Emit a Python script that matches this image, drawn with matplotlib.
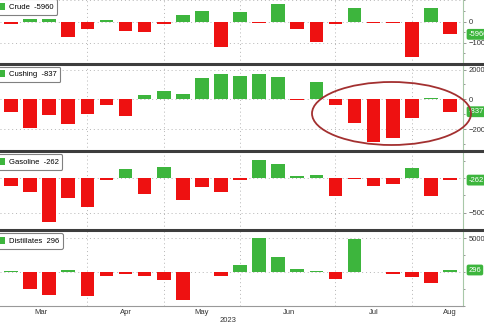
import numpy as np
import pandas as pd
import matplotlib
matplotlib.use('Agg')
import matplotlib.pyplot as plt
import matplotlib.dates as mdates
import matplotlib.transforms as mtransforms
from matplotlib.patches import Ellipse, Patch
from matplotlib.lines import Line2D

# weekly EIA inventory changes (thousand barrels), week ending
week_ending = ['2023-03-03', '2023-03-10', '2023-03-17', '2023-03-24', '2023-03-31',
               '2023-04-07', '2023-04-14', '2023-04-21', '2023-04-28', '2023-05-05',
               '2023-05-12', '2023-05-19', '2023-05-26', '2023-06-02', '2023-06-09',
               '2023-06-16', '2023-06-23', '2023-06-30', '2023-07-07', '2023-07-14',
               '2023-07-21', '2023-07-28', '2023-08-04', '2023-08-11']

crude = [-1100, 1500, 1100, -7100, -3500, 600, -4300, -4900, -1100, 3100,
         5200, -12100, 4700, -450, 8300, -3600, -9400, -1300, 6300, -500,
         -500, -16800, 6300, -5960]
cushing = [-880, -1900, -1060, -1660, -990, -380, -1100, 290, 560, 380,
           1460, 1730, 1600, 1700, 1530, -40, 1190, -380, -1610, -2890,
           -2580, -1230, 120, -837]
gasoline = [-1060, -2030, -6280, -2800, -4100, -290, 1300, -2320, 1640, -3140,
            -1300, -1980, -200, 2660, 2030, 390, 530, -2510, -60, -1110,
            -770, 1450, -2610, -262]
distillates = [100, -2470, -3370, 250, -3610, -590, -350, -590, -1240, -4160,
               60, -590, 990, 5100, 2180, 450, 120, -990, 4850, 30,
               -250, -790, -1680, 296]

names = ['Crude', 'Cushing', 'Gasoline', 'Distillates']
series = [crude, cushing, gasoline, distillates]
last_labels = ['-5960', '-837', '-262', '296']
legend_labels = ['Crude  -5960', 'Cushing  -837', 'Gasoline  -262', 'Distillates  296']

month_labels = ['Mar', 'Apr', 'May', 'Jun', 'Jul', 'Aug']
month_pos = ['2023-03-14', '2023-04-14', '2023-05-12', '2023-06-13', '2023-07-14', '2023-08-11']
grid_dates = ['2023-03-31', '2023-04-28', '2023-05-26', '2023-06-30', '2023-07-28']

GREEN = '#3db53d'
RED = '#ee1111'

plt.rcParams['font.family'] = ['Liberation Sans', 'DejaVu Sans']

W, H = 485, 325
fig = plt.figure(figsize=(W / 100, H / 100), dpi=100)

# panel extents in pixels (top, bottom) and y ranges
panel_px = [(-4, 63.5), (63.5, 151), (151, 230), (230, 306)]
ylims = [(-19720, 12120), (-3480, 2410), (-7515, 3968), (-5045, 6231)]
# labelled ticks (the zero labels of the lower two panels sit under the value tags)
major = [[-10000, 0], [-2000, 0, 2000], [-5000], [5000]]
minor = [[-15000, -5000, 5000, 10000], [-3000, -1000, 1000],
         [-2500, 0, 2500], [-5000, -2500, 0, 2500]]
hgrid = [[-10000, 0, 10000], [-2000, 0, 2000], [-5000, 0], [-5000, 0, 5000]]

dates = pd.to_datetime(week_ending)
x0 = mdates.date2num(pd.Timestamp('2023-03-03')) - 11 / 2.727
x1 = mdates.date2num(pd.Timestamp('2023-08-11')) + 13 / 2.727

axes = []
for i, (name, vals) in enumerate(zip(names, series)):
    top, bot = panel_px[i]
    ax = fig.add_axes([0, 1 - bot / H, 463 / W, (bot - top) / H])
    axes.append(ax)
    cols = [GREEN if v >= 0 else RED for v in vals]
    ax.bar(dates, vals, width=5, color=cols, zorder=2)
    ax.set_xlim(x0, x1)
    ax.set_ylim(*ylims[i])

    for d in grid_dates:
        ax.axvline(pd.Timestamp(d), color='#b5b5b5', lw=0.7, ls=(0, (1, 3)), zorder=0)
    for g in hgrid[i]:
        ax.axhline(g, color='#b5b5b5', lw=0.7, ls=(0, (1, 3)), zorder=0)

    for s in ['left', 'top', 'bottom']:
        ax.spines[s].set_visible(False)
    ax.spines['right'].set_color('#a8c8a8')
    ax.spines['right'].set_linewidth(0.8)

    ax.yaxis.tick_right()
    ax.set_yticks(major[i])
    ax.set_yticks(minor[i], minor=True)
    ax.tick_params(axis='y', which='both', direction='out', colors='#888888',
                   labelcolor='#333333', labelsize=5.5, pad=1.5, width=0.6)
    ax.tick_params(axis='y', which='major', length=2.5)
    ax.tick_params(axis='y', which='minor', length=1.5)

    if i < 3:
        ax.set_xticks([])
    else:
        ax.spines['bottom'].set_visible(True)
        ax.spines['bottom'].set_color('#999999')
        ax.spines['bottom'].set_linewidth(0.8)
        ax.set_xticks(pd.to_datetime(month_pos))
        ax.set_xticklabels(month_labels)
        ax.tick_params(axis='x', length=0, labelsize=5.5, labelcolor='#333333', pad=2.5)

    # last value tag on the right axis
    trans = mtransforms.blended_transform_factory(ax.transAxes, ax.transData)
    ax.text(1.012, vals[-1], last_labels[i], transform=trans, ha='left', va='center',
            fontsize=5.5, color='white', clip_on=False, zorder=10,
            bbox=dict(boxstyle='round,pad=0.25', fc=GREEN, ec='none'))

    leg = ax.legend(handles=[Patch(fc=GREEN, ec='none')], labels=[legend_labels[i]],
                    loc='upper left', bbox_to_anchor=(-5 / W, 1 - (top + 3) / H),
                    bbox_transform=fig.transFigure, fontsize=5.5, frameon=True,
                    fancybox=True, framealpha=1, edgecolor='#808080',
                    handlelength=0.8, handleheight=1.0, handletextpad=0.5,
                    borderpad=0.5, borderaxespad=0)
    leg.get_frame().set_linewidth(0.8)
    leg.set_zorder(15)

# dark separators between the panels
for y in [63.5, 151, 230]:
    fig.add_artist(Line2D([0, 1], [1 - y / H] * 2, transform=fig.transFigure,
                          color='#3d3d3d', lw=2.2, zorder=30))

# the red ellipse highlighting the Cushing draws
fig.add_artist(Ellipse((391.5 / W, 1 - 113.5 / H), 159 / W, 63 / H,
                       transform=fig.transFigure, fill=False, ec='#a33030',
                       lw=1.3, zorder=40))

fig.text(228 / W, 1 - 321 / H, '2023', ha='center', va='center',
         fontsize=5.5, color='#333333')

fig.savefig('out.png', dpi=100)
